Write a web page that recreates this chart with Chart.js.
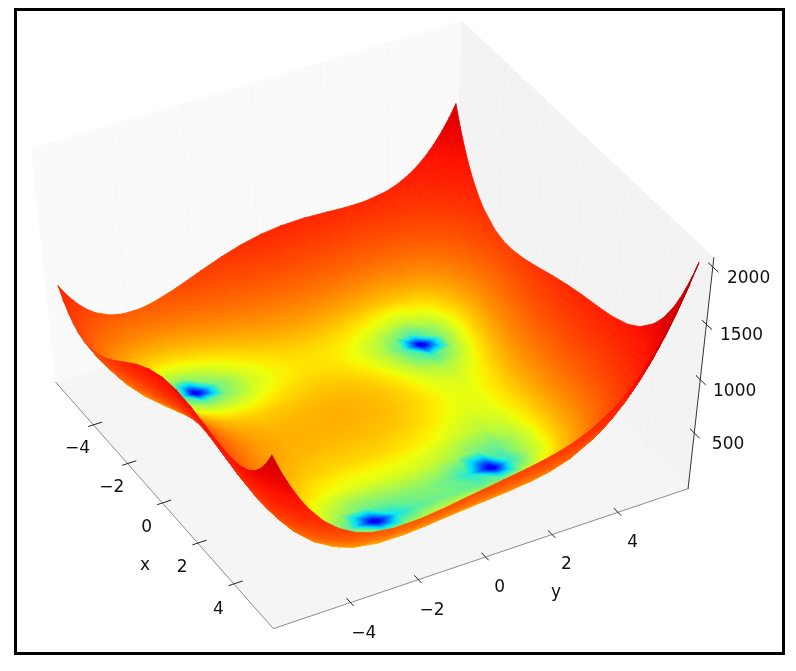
<!DOCTYPE html>
<html>
<head>
<meta charset="utf-8">
<title>Surface</title>
<script src="https://cdn.jsdelivr.net/npm/chart.js@4/dist/chart.umd.js"></script>
<style>
    body { margin: 0; background: #fff; }
    #wrap { position: relative; width: 796px; height: 671px; }
    #surface { display: block; }
    #frame { position: absolute; left: 14px; top: 8px; width: 771px; height: 647px; box-sizing: border-box; border: 3px solid #000; }
</style>
</head>
<body>
<div id="wrap">
    <canvas id="surface" width="796" height="671"></canvas>
    <div id="frame"></div>
</div>
<script>
// Heights, one row per x value, one column per y value
const xValues = [-6, -5.75, -5.5, -5.25, -5, -4.7, -4.4, -3.78, -3.3, -2.81, -2.2, -1.5, -0.75, 0, 0.75, 1.5, 2.25, 3, 3.58, 4.2, 4.6, 5, 5.25, 5.5, 5.7, 5.9];
const yValues = [-6, -5.75, -5.5, -5.25, -5, -4.6, -4.2, -3.7, -3.28, -2.6, -1.85, -1.2, -0.6, 0, 0.6, 1.3, 2, 2.55, 3.13, 3.8, 4.15, 4.5, 4.75, 5, 5.25, 5.5, 5.7, 5.9];
const zValues = [
    [890, 773, 678, 602, 544, 483, 455, 454, 477, 541, 628, 700, 755, 794, 815, 820, 810, 801, 801, 831, 868, 923, 976, 1044, 1127, 1228, 1322, 1431],
    [799, 678, 580, 502, 441, 376, 343, 338, 357, 415, 495, 563, 615, 650, 667, 668, 656, 645, 644, 672, 707, 761, 815, 882, 965, 1066, 1161, 1269],
    [728, 605, 504, 423, 359, 290, 252, 243, 258, 310, 385, 448, 495, 527, 541, 539, 524, 511, 508, 535, 570, 624, 677, 744, 827, 928, 1023, 1131],
    [676, 550, 446, 362, 297, 222, 182, 167, 178, 225, 294, 353, 396, 424, 435, 431, 412, 398, 394, 420, 454, 508, 560, 628, 710, 811, 906, 1013],
    [640, 512, 405, 319, 250, 172, 128, 109, 117, 157, 222, 276, 315, 340, 348, 340, 320, 304, 298, 323, 356, 410, 464, 530, 613, 713, 808, 916],
    [616, 485, 375, 286, 214, 131, 82, 59, 62, 96, 154, 203, 239, 260, 266, 254, 230, 213, 206, 230, 262, 316, 369, 436, 519, 619, 714, 823],
    [611, 476, 363, 271, 196, 109, 56, 27, 26, 55, 106, 150, 182, 200, 202, 187, 162, 143, 135, 157, 190, 243, 297, 363, 446, 547, 643, 751],
    [643, 502, 384, 286, 205, 110, 48, 8.7, 0.05, 16.7, 56, 92, 116, 127, 124, 104, 74, 52, 42, 64, 96, 151, 204, 271, 355, 456, 552, 661],
    [698, 552, 430, 327, 242, 140, 72, 26, 11.7, 19.8, 51, 80, 99, 106, 99, 75, 43, 20.4, 9.4, 30.7, 64, 118, 172, 240, 324, 427, 523, 634],
    [769, 619, 492, 385, 297, 188, 114, 61, 41.6, 41.8, 65, 88.5, 103, 106, 95, 69, 35, 11.3, 0.02, 21.9, 56, 111, 166, 235, 320, 424, 521, 633],
    [866, 711, 579, 467, 375, 259, 178, 117, 91, 83, 97, 114, 124, 123, 109, 80, 44, 20, 9.6, 33, 68, 125, 180, 251, 338, 443, 542, 656],
    [974, 813, 676, 559, 461, 338, 252, 182, 150, 132, 138, 149, 153, 149, 132, 102, 66, 42, 34, 60, 97, 156, 214, 286, 375, 484, 585, 700],
    [1068, 903, 760, 638, 536, 406, 312, 235, 197, 171, 170, 175, 177, 169, 152, 121, 85, 64, 57, 89, 130, 191, 251, 328, 419, 530, 634, 753],
    [1130, 960, 813, 687, 580, 444, 344, 261, 218, 185, 178, 180, 179, 170, 152, 122, 90, 71, 70, 107, 151, 218, 281, 360, 456, 571, 678, 799],
    [1155, 981, 830, 700, 590, 448, 344, 255, 208, 170, 159, 158, 157, 148, 132, 105, 76, 62, 66, 111, 160, 231, 298, 382, 481, 600, 711, 837],
    [1148, 970, 816, 683, 569, 423, 315, 222, 173, 131, 116, 116, 113, 107, 92, 71, 48, 39, 51, 105, 158, 236, 307, 394, 499, 624, 737, 867],
    [1120, 938, 781, 645, 530, 380, 269, 173, 121, 77, 63, 62, 62, 58, 48, 31, 16, 14.6, 33, 99, 159, 242, 318, 411, 521, 650, 770, 904],
    [1088, 904, 745, 608, 490, 338, 224, 126, 74, 29, 15, 17, 20, 20, 15, 5.8, 0, 6.6, 35, 112, 180, 270, 352, 450, 566, 701, 826, 964],
    [1079, 894, 733, 595, 476, 323, 208, 109, 56, 11.8, 0.02, 4.3, 10.9, 15, 15.3, 12.7, 14.9, 28.6, 65, 153, 226, 323, 409, 512, 633, 774, 902, 1045],
    [1102, 917, 755, 615, 496, 341, 226, 128, 74, 32, 23, 31, 42, 52, 58, 64, 76, 98, 145, 244, 324, 429, 520, 628, 754, 901, 1033, 1182],
    [1146, 959, 798, 657, 538, 383, 268, 169, 117, 76, 70, 81, 95, 109, 120, 132, 151, 179, 232, 340, 425, 534, 628, 741, 870, 1021, 1157, 1308],
    [1220, 1033, 870, 730, 610, 455, 341, 243, 192, 153, 150, 164, 183, 200, 216, 234, 260, 294, 354, 472, 561, 675, 775, 890, 1024, 1178, 1318, 1472],
    [1285, 1097, 934, 794, 675, 520, 405, 308, 257, 220, 219, 236, 257, 277, 296, 319, 349, 388, 453, 576, 668, 786, 887, 1006, 1142, 1299, 1441, 1597],
    [1366, 1178, 1016, 875, 755, 602, 486, 391, 341, 305, 307, 326, 349, 373, 395, 422, 458, 500, 570, 698, 795, 916, 1020, 1140, 1279, 1440, 1583, 1743],
    [1444, 1257, 1094, 954, 834, 679, 566, 470, 421, 387, 390, 412, 437, 464, 489, 519, 559, 605, 678, 813, 910, 1034, 1141, 1264, 1405, 1566, 1712, 1873],
    [1535, 1347, 1185, 1044, 925, 771, 659, 563, 514, 482, 487, 511, 540, 568, 597, 631, 674, 724, 802, 940, 1042, 1168, 1277, 1401, 1544, 1709, 1856, 2019]
];
const xTicks = [-4, -2, 0, 2, 4];
const yTicks = [-4, -2, 0, 2, 4];
const zTicks = [500, 1000, 1500, 2000];

// Axis box limits
const xLimits = [-6.25, 6.15];
const yLimits = [-6.25, 6.15];
const zLimits = [-42, 2080];

// Camera, same idea as a matplotlib 3d view
const azimuth = -29 * Math.PI / 180;
const elevation = 50 * Math.PI / 180;
const viewDistance = 10;
const scaleX = 483;
const scaleY = 361;
const centerX = 368;
const centerY = 323;

// Log colour range and jet colours
const logMin = -1.0;
const logMax = 3.5;
const lowestHeight = 0.2;
const jetStops = [
    [0, [0, 0, 127]],
    [0.11, [0, 0, 255]],
    [0.125, [0, 0, 255]],
    [0.35, [0, 229, 247]],
    [0.64, [238, 255, 8]],
    [0.66, [255, 236, 0]],
    [0.89, [255, 18, 0]],
    [0.91, [232, 0, 0]],
    [1, [127, 0, 0]]
];

// Function to project a 3d point onto the chart plane
function project(x, y, z) {
    const ux = (x - xLimits[0]) / (xLimits[1] - xLimits[0]) - 0.5;
    const uy = (y - yLimits[0]) / (yLimits[1] - yLimits[0]) - 0.5;
    const uz = (z - zLimits[0]) / (zLimits[1] - zLimits[0]) - 0.5;
    const ca = Math.cos(azimuth), sa = Math.sin(azimuth);
    const ce = Math.cos(elevation), se = Math.sin(elevation);
    const sx = -sa * ux + ca * uy;
    const sy = -se * ca * ux - se * sa * uy + ce * uz;
    const depth = ce * ca * ux + ce * sa * uy + se * uz;
    const f = viewDistance / (viewDistance - depth);
    return { x: centerX + scaleX * sx * f, y: centerY - scaleY * sy * f, depth: depth };
}

function heightToColorPos(z) {
    const t = (Math.log10(Math.max(z, lowestHeight)) - logMin) / (logMax - logMin);
    return Math.min(1, Math.max(0, t));
}

function jetColor(t) {
    for (let i = 1; i < jetStops.length; i++) {
        if (t <= jetStops[i][0]) {
            const [t0, c0] = jetStops[i - 1];
            const [t1, c1] = jetStops[i];
            const k = (t - t0) / (t1 - t0);
            const c = c0.map((v, n) => Math.round(v + (c1[n] - v) * k));
            return `rgb(${c[0]},${c[1]},${c[2]})`;
        }
    }
    return 'rgb(127,0,0)';
}

const ctx = document.getElementById('surface').getContext('2d');

// Colour of one triangle: height colour runs straight across it, so a linear gradient is enough
function triangleFill(p, t) {
    const tLo = Math.min(t[0], t[1], t[2]);
    const tHi = Math.max(t[0], t[1], t[2]);
    const flat = jetColor((t[0] + t[1] + t[2]) / 3);
    if (tHi - tLo < 0.002) return flat;

    const e1x = p[1].x - p[0].x, e1y = p[1].y - p[0].y;
    const e2x = p[2].x - p[0].x, e2y = p[2].y - p[0].y;
    const det = e1x * e2y - e1y * e2x;
    if (Math.abs(det) < 0.5) return flat;

    const dt1 = t[1] - t[0], dt2 = t[2] - t[0];
    const gx = (dt1 * e2y - dt2 * e1y) / det;
    const gy = (dt2 * e1x - dt1 * e2x) / det;
    const gg = gx * gx + gy * gy;
    const gradient = ctx.createLinearGradient(
        p[0].x + (tLo - t[0]) * gx / gg, p[0].y + (tLo - t[0]) * gy / gg,
        p[0].x + (tHi - t[0]) * gx / gg, p[0].y + (tHi - t[0]) * gy / gg
    );
    gradient.addColorStop(0, jetColor(tLo));
    jetStops.forEach(stop => {
        if (stop[0] > tLo && stop[0] < tHi) {
            gradient.addColorStop((stop[0] - tLo) / (tHi - tLo), jetColor(stop[0]));
        }
    });
    gradient.addColorStop(1, jetColor(tHi));
    return gradient;
}

function shapeDataset(points, fillColor, lineColor, lineWidth) {
    return {
        data: points.map(p => ({ x: p.x, y: p.y })),
        showLine: true,
        fill: fillColor ? 'shape' : false,
        backgroundColor: fillColor || 'transparent',
        borderColor: lineColor,
        borderWidth: lineWidth,
        borderJoinStyle: 'round',
        borderCapStyle: 'round',
        pointRadius: 0,
        clip: false
    };
}

function lineDataset(from, to, color, width) {
    return shapeDataset([project(...from), project(...to)], null, color, width);
}

// Walls and floor of the axis box
function buildPanes() {
    const [x0, x1] = xLimits, [y0, y1] = yLimits, [z0, z1] = zLimits;
    const list = [];
    const pane = (corners, color) => {
        const pts = corners.map(c => project(...c));
        list.push(shapeDataset(pts, color, color, 0.5));
    };
    pane([[x0, y0, z0], [x0, y0, z1], [x0, y1, z1], [x0, y1, z0]], '#fafafa');
    pane([[x0, y1, z0], [x0, y1, z1], [x1, y1, z1], [x1, y1, z0]], '#f3f3f3');
    pane([[x0, y0, z0], [x1, y0, z0], [x1, y1, z0], [x0, y1, z0]], '#f5f5f5');

    const grid = 'rgba(0,0,0,0.018)';
    yTicks.forEach(y => {
        list.push(lineDataset([x0, y, z0], [x0, y, z1], grid, 1));
        list.push(lineDataset([x0, y, z0], [x1, y, z0], grid, 1));
    });
    xTicks.forEach(x => {
        list.push(lineDataset([x, y1, z0], [x, y1, z1], grid, 1));
        list.push(lineDataset([x, y0, z0], [x, y1, z0], grid, 1));
    });
    zTicks.forEach(z => {
        list.push(lineDataset([x0, y0, z], [x0, y1, z], grid, 1));
        list.push(lineDataset([x0, y1, z], [x1, y1, z], grid, 1));
    });
    return list;
}

function buildAxes() {
    const [x0, x1] = xLimits, [y0, y1] = yLimits, [z0, z1] = zLimits;
    const list = [
        lineDataset([x0, y0, z0], [x1, y0, z0], '#8c8c8c', 1),
        lineDataset([x1, y0, z0], [x1, y1, z0], '#8c8c8c', 1),
        lineDataset([x1, y1, z0], [x1, y1, z1], '#333', 1)
    ];
    xTicks.forEach(x => list.push(lineDataset([x, y0 - 0.15, z0], [x, y0 + 0.25, z0], '#222', 1)));
    yTicks.forEach(y => list.push(lineDataset([x1 - 0.2, y, z0], [x1 + 0.15, y, z0], '#222', 1)));
    zTicks.forEach(z => list.push(lineDataset([x1 - 0.2, y1, z], [x1 + 0.25, y1, z], '#222', 1)));
    return list;
}

// The surface as triangles, sorted from far to near
function buildSurface() {
    const triangles = [];
    const corner = (i, j) => ({
        p: project(xValues[i], yValues[j], zValues[i][j]),
        t: heightToColorPos(zValues[i][j])
    });
    const addTriangle = (a, b, c) => {
        triangles.push({ a, b, c, depth: (a.p.depth + b.p.depth + c.p.depth) / 3 });
    };
    for (let i = 0; i < xValues.length - 1; i++) {
        for (let j = 0; j < yValues.length - 1; j++) {
            const a = corner(i, j), b = corner(i + 1, j), c = corner(i + 1, j + 1), d = corner(i, j + 1);
            addTriangle(a, b, c);
            addTriangle(a, c, d);
        }
    }
    triangles.sort((m, n) => m.depth - n.depth);
    return triangles.map(tri => {
        const pts = [tri.a.p, tri.b.p, tri.c.p];
        const fill = triangleFill(pts, [tri.a.t, tri.b.t, tri.c.t]);
        return shapeDataset([...pts, tri.a.p], fill, fill, 0.8);
    });
}

function minus(v) {
    return String(v).replace('-', '\u2212');
}

// Tick labels and axis names placed through the same projection
const labelPlugin = {
    id: 'axisLabels',
    afterDatasetsDraw(chart) {
        const [x0, x1] = xLimits, [y0, y1] = yLimits, [z0] = zLimits;
        const c = chart.ctx;
        const put = (text, x, y, z) => {
            const p = project(x, y, z);
            c.fillText(text, chart.scales.x.getPixelForValue(p.x), chart.scales.y.getPixelForValue(p.y));
        };
        c.save();
        c.font = '17px "DejaVu Sans"';
        c.fillStyle = '#111';
        c.textAlign = 'center';
        c.textBaseline = 'middle';
        xTicks.forEach(x => put(minus(x), x + 0.75, y0 - 0.85, z0));
        yTicks.forEach(y => put(minus(y), x1 + 1.3, y - 0.33, z0));
        zTicks.forEach(z => put(String(z), x1 + 0.85, y1 + 0.5, z));
        put('x', 2.2, y0 - 1.65, z0);
        put('y', x1 + 2.2, 0.83, z0);
        c.restore();
    }
};

// Chart.js paints the first dataset on top, so the list goes near to far
const painted = [...buildPanes(), ...buildAxes(), ...buildSurface()];

new Chart(ctx, {
    type: 'scatter',
    data: { datasets: painted.reverse() },
    options: {
        responsive: false,
        animation: false,
        events: [],
        layout: { padding: 0 },
        plugins: { legend: { display: false }, tooltip: { enabled: false } },
        scales: {
            x: { type: 'linear', display: false, min: 0, max: 796 },
            y: { type: 'linear', display: false, min: 0, max: 671, reverse: true }
        }
    },
    plugins: [labelPlugin]
});
</script>
</body>
</html>
